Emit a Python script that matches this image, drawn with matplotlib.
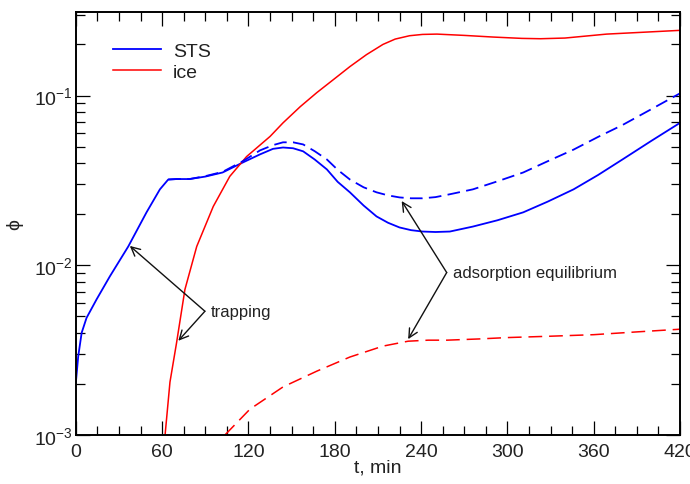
import math
import matplotlib
matplotlib.use("Agg")
import matplotlib.pyplot as plt
from matplotlib.ticker import MultipleLocator, LogLocator, FuncFormatter, NullFormatter

plt.rcParams['font.family'] = ['Liberation Sans', 'DejaVu Sans']
plt.rcParams['mathtext.fontset'] = 'custom'
plt.rcParams['mathtext.rm'] = 'Liberation Sans'
plt.rcParams['mathtext.it'] = 'Liberation Sans'

# STS, solid
sts_t = [0, 1.6, 4, 7.4, 14.4, 23.6, 36.4, 49.1, 58.4, 64.2, 70, 79, 90, 102, 116,
         128, 137, 144, 151, 158, 166, 174.5, 182, 190.5, 200, 209, 217, 225, 233,
         241, 250, 260, 276, 293, 311, 328, 346, 363, 380, 400, 420]
sts_phi = [0.00205, 0.0029, 0.0040, 0.0049, 0.0063, 0.0086, 0.0129, 0.0205, 0.028,
           0.032, 0.0322, 0.0322, 0.0333, 0.0352, 0.0403, 0.045, 0.0485, 0.0494,
           0.0489, 0.0469, 0.042, 0.0367, 0.031, 0.0269, 0.0225, 0.0194, 0.0178,
           0.0167, 0.0161, 0.0158, 0.0157, 0.0158, 0.0169, 0.0184, 0.0205, 0.0237,
           0.028, 0.034, 0.042, 0.054, 0.069]

# STS, dashed
sts2_t = [64.2, 70, 79, 90, 102, 116, 128, 137, 144, 151, 158, 166, 174.5, 182, 190.5,
          200, 209, 217, 225, 233, 241, 250, 260, 276, 293, 311, 328, 346, 363, 380,
          400, 420]
sts2_phi = [0.032, 0.0322, 0.0322, 0.0335, 0.0355, 0.041, 0.0475, 0.051, 0.053, 0.053,
            0.0515, 0.047, 0.042, 0.0365, 0.032, 0.0288, 0.0269, 0.0258, 0.0251,
            0.0248, 0.0248, 0.0252, 0.0262, 0.028, 0.0312, 0.0352, 0.041, 0.048,
            0.057, 0.067, 0.083, 0.103]

# ice, solid
ice_t = [61.5, 65.4, 70, 75.8, 84, 95.5, 107, 118.7, 135, 144, 156, 167.5, 179, 190.5,
         202, 213.5, 222, 232, 241, 251, 270, 290, 310, 323, 340, 369, 395, 420]
ice_phi = [0.0009, 0.00205, 0.0035, 0.0072, 0.0129, 0.0222, 0.0334, 0.0437, 0.0574,
           0.069, 0.086, 0.104, 0.124, 0.148, 0.174, 0.2, 0.215, 0.225, 0.229, 0.23,
           0.226, 0.221, 0.217, 0.216, 0.218, 0.23, 0.236, 0.242]

# ice, dashed
ice2_t = [103.6, 121, 144, 167.6, 190.5, 213.5, 231, 245, 258, 280, 300, 330, 360, 390, 420]
ice2_phi = [0.001, 0.00142, 0.00192, 0.00238, 0.00288, 0.00334, 0.00357, 0.00362,
            0.00362, 0.00368, 0.00375, 0.00382, 0.0039, 0.00405, 0.0042]

fig = plt.figure(figsize=(6.9, 4.85), dpi=100)
ax = fig.add_axes([0.110, 0.101, 0.8755, 0.872])

ax.plot(sts_t, sts_phi, color="blue", lw=1.3, label="STS")
ax.plot(ice_t, ice_phi, color="red", lw=1.1, label="ice")
ax.plot(sts2_t, sts2_phi, color="blue", lw=1.3, dashes=(7, 3.5))
ax.plot(ice2_t, ice2_phi, color="red", lw=1.1, dashes=(9, 4.5))

ax.set_yscale("log")
ax.set_xlim(0, 420)
ax.set_ylim(1e-3, 0.31)

ax.xaxis.set_major_locator(MultipleLocator(60))
ax.xaxis.set_minor_locator(MultipleLocator(15))
ax.yaxis.set_major_locator(LogLocator(base=10))
ax.yaxis.set_minor_locator(LogLocator(base=10, subs=range(2, 10)))
ax.yaxis.set_minor_formatter(NullFormatter())
ax.yaxis.set_major_formatter(FuncFormatter(
    lambda v, p: r"$\mathregular{10^{%d}}$" % round(math.log10(v))))

ax.tick_params(which="both", direction="in", top=True, right=True, width=0.9,
               labelcolor="#222222")
ax.tick_params(which="major", length=10, labelsize=14)
ax.tick_params(axis="x", which="major", pad=6)
ax.tick_params(axis="y", which="major", pad=2)
ax.tick_params(which="minor", length=6.5)
for s in ax.spines.values():
    s.set_linewidth(1.4)

ax.set_xlabel("t, min", fontsize=14, labelpad=-1, color="#222222")
ax.set_ylabel("ϕ", fontsize=14, labelpad=8, color="#222222")

ax.legend(loc="upper left", bbox_to_anchor=(0.061, 0.928), frameon=False,
          fontsize=14, handlelength=2.5, handletextpad=0.6, labelspacing=0.15,
          borderpad=0, borderaxespad=0, labelcolor="#222222")

arrow = dict(arrowstyle="->", color="#111111", lw=1.0, mutation_scale=16,
             shrinkA=0, shrinkB=0)
ax.annotate("", xy=(37.5, 0.0130), xytext=(89.7, 0.00536), arrowprops=arrow)
ax.annotate("", xy=(71.2, 0.00359), xytext=(89.7, 0.00536), arrowprops=arrow)
ax.text(94.0, 0.00536, "trapping", fontsize=12, ha="left", va="center",
        color="#222222")

ax.annotate("", xy=(226.5, 0.0239), xytext=(257.8, 0.00906), arrowprops=arrow)
ax.annotate("", xy=(231.0, 0.00367), xytext=(257.8, 0.00906), arrowprops=arrow)
ax.text(262.0, 0.00906, "adsorption equilibrium", fontsize=12, ha="left",
        va="center", color="#222222")

fig.savefig("out.png", dpi=100)
